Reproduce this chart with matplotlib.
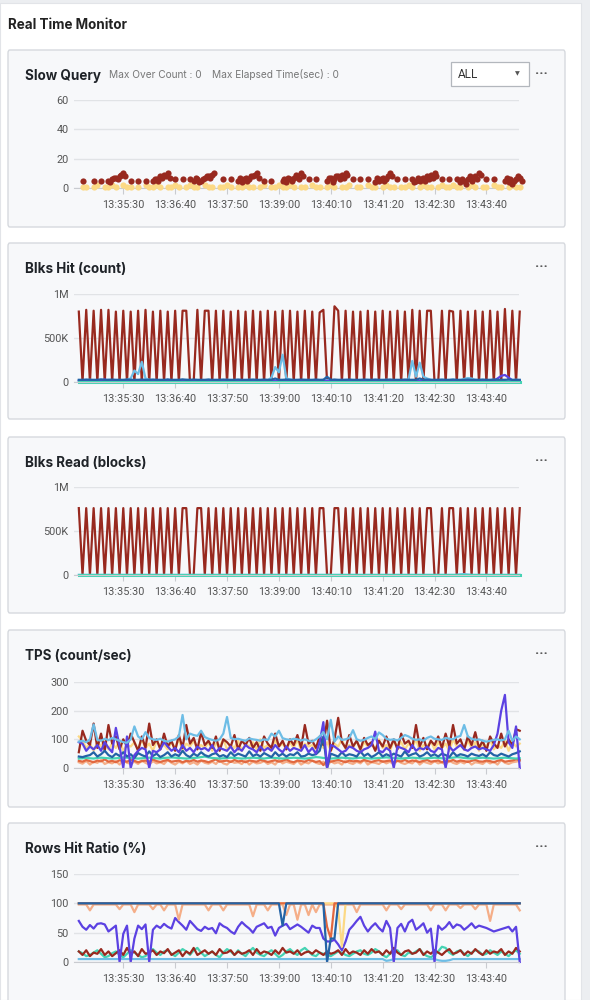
import numpy as np
import matplotlib.pyplot as plt
from matplotlib.patches import Rectangle, FancyBboxPatch

# ---- data (5 s samples starting 13:34:30) ----
start_time = "13:34:30"
step_sec = 5
xtick_labels = ["13:35:30", "13:36:40", "13:37:50", "13:39:00",
                "13:40:10", "13:41:20", "13:42:30", "13:43:40"]

nan = np.nan
slow_red = [nan,5,nan,nan,5,nan,5,nan,5,6,7,8,10,nan,5,nan,5,nan,5,nan,
            5,6,8,9,10,nan,6,nan,6,nan,6,5,6,5,7,8,9,nan,nan,6,
            nan,6,nan,5,4,7,6,8,10,nan,5,nan,5,nan,nan,5,4,6,7,8,
            10,nan,6,nan,6,nan,nan,5,7,6,8,9,10,nan,6,nan,6,nan,6,nan,
            4,5,7,6,10,nan,6,nan,6,nan,6,5,5,7,8,9,10,nan,6,nan,
            6,nan,6,4,5,6,5,8,10,nan,6,nan,6,nan,nan,5,4,3,6,7]
slow_red_extra_idx = [8,9,10,11,12,20,21,22,23,24,31,32,33,34,35,36,
                      43,44,45,46,47,48,55,56,57,58,59,60,67,68,69,70,71,72,
                      80,81,82,83,84,90,91,92,93,94,95,96,
                      103,104,105,106,107,108,115,116,117,118,119]
slow_red_extra_val = [4,7,6,9,8,6,5,7,8,7,7,4,6,8,7,10,
                      7,6,5,8,9,7,6,7,5,9,6,8,7,4,8,6,7,9,
                      7,6,5,8,8,4,7,6,5,6,7,8,
                      6,3,8,7,6,9,7,6,5,8,5]
slow_yellow = [nan,1,1,nan,1,2,nan,1,1,2,1,nan,2,1,1,nan,1,nan,2,1,
               1,2,1,nan,1,1,2,1,nan,1,2,1,1,nan,2,1,1,nan,1,1,
               2,1,nan,1,1,2,1,1,nan,1,2,nan,1,1,2,1,1,2,1,nan,
               1,1,nan,2,1,1,nan,1,2,1,nan,1,1,2,nan,1,1,nan,2,1,
               1,nan,1,2,1,1,nan,1,1,2,1,nan,1,2,1,1,nan,1,2,1,
               1,2,1,1,nan,1,2,1,nan,1,1,nan,2,1,1,nan,1,2,1,1]

# Blks Hit (thousands)
hit_red = [800,0,820,0,810,0,820,0,820,0,800,0,810,0,800,0,810,0,820,0,
           800,0,810,0,800,0,810,0,810,810,0,0,820,0,810,810,0,810,0,810,
           0,800,0,810,0,800,0,810,0,800,0,810,0,800,0,810,0,810,0,800,
           0,810,0,800,0,790,820,0,0,860,810,0,810,0,800,0,800,0,810,0,
           800,0,810,0,800,0,810,0,800,0,820,0,810,0,810,810,0,0,810,0,
           810,800,0,810,0,800,0,810,0,800,0,810,0,800,0,830,0,810,0,800]
hit_lightblue = [20,22,20,25,20,20,22,20,25,20,20,22,20,25,40,130,90,230,40,25,
                 20,22,20,20,25,20,22,20,20,25,20,20,22,20,20,25,20,22,20,20,
                 25,20,20,22,20,20,25,20,22,20,20,20,50,170,110,310,40,30,20,22,
                 20,25,20,20,22,20,25,20,20,22,20,20,25,20,22,20,20,20,25,20,
                 22,20,20,25,20,22,20,20,20,30,240,60,220,60,40,25,20,22,20,20,
                 22,25,20,20,35,45,40,25,20,20,22,20,25,20,20,22,20,20,25,20]
hit_darkblue = [25,25,28,25,25,25,30,25,25,28,25,25,25,28,25,25,25,28,25,25,
                28,25,25,25,28,25,25,25,30,25,25,28,25,25,25,28,25,25,25,28,
                25,25,25,28,25,25,25,28,25,25,28,25,25,40,25,25,28,25,25,25,
                28,25,25,25,28,25,25,60,25,28,25,25,25,28,25,25,25,28,25,25,
                28,25,25,25,28,25,25,25,28,25,25,25,40,25,28,25,25,25,28,25,
                25,28,25,25,25,28,25,25,25,28,25,25,28,25,25,25,28,25,25,25]
hit_purple = [12,15,12,15,12,12,15,30,12,15,12,12,15,12,12,15,12,12,15,12,
              12,15,12,12,25,12,15,12,12,15,12,12,15,12,12,15,12,12,15,12,
              12,15,12,12,15,12,12,15,12,12,15,12,12,15,12,12,15,12,12,15,
              12,12,15,12,12,15,12,12,15,12,12,25,12,15,12,12,15,12,12,15,
              12,12,15,12,12,15,12,12,15,12,12,15,12,12,15,12,12,15,12,12,
              15,12,12,15,12,12,15,12,12,15,12,12,15,40,70,80,50,20,15,12]
hit_teal = [5] * 120

# Blks Read (thousands)
read_red = [760,0,760,0,760,0,760,0,760,0,760,0,760,0,760,0,760,0,760,0,
            760,0,760,0,760,0,760,0,760,760,0,0,760,760,0,760,0,760,0,760,
            0,760,0,760,0,760,0,760,0,760,0,760,0,760,0,760,0,760,0,760,
            0,760,0,760,0,760,760,0,0,760,760,0,760,0,760,0,760,0,760,0,
            760,0,760,0,760,0,760,0,760,0,760,0,760,0,760,760,0,0,760,0,
            760,760,0,760,0,760,0,760,0,760,0,760,0,760,0,760,0,760,0,760]
read_lightblue = [2]*100 + [2,2,3,8,10,6,2,2,2,2,2,2,2,2,2,2,2,2,2,2]
read_teal = [2] * 120

# TPS (count/sec)
tps_red = [55,130,95,80,155,70,120,60,150,85,110,65,100,75,120,90,60,110,70,155,
           80,100,65,120,75,95,60,115,70,150,85,105,65,125,80,95,70,110,60,100,
           90,75,115,65,95,80,105,70,90,60,110,85,70,120,75,95,65,100,80,115,
           70,150,85,95,70,110,80,165,60,100,175,90,70,115,75,95,65,105,80,90,
           60,95,75,110,70,100,65,120,85,95,70,150,75,105,65,95,80,110,70,120,
           75,150,85,100,65,110,80,125,70,95,60,110,85,70,120,75,100,80,135,130]
tps_lightblue = [92,95,90,100,152,98,95,102,97,105,100,95,90,88,100,145,110,100,125,105,
                 100,98,102,95,92,96,100,110,185,100,120,115,112,130,108,102,98,95,100,120,
                 178,105,100,102,98,95,103,100,98,95,100,97,120,110,130,104,100,98,102,100,
                 96,100,95,92,100,110,125,100,168,92,110,98,100,105,132,100,95,98,105,110,
                 100,124,115,102,98,100,96,105,115,110,102,98,100,95,105,110,102,100,98,105,
                 102,100,108,112,150,110,102,98,100,95,92,95,98,100,96,100,130,95,110,100]
tps_purple = [90,85,60,75,65,80,60,90,70,55,140,75,0,110,0,45,60,70,65,0,
              60,55,65,90,75,60,70,55,80,60,70,55,75,65,70,60,80,55,70,65,
              60,75,55,70,60,80,70,65,55,75,60,70,60,80,65,55,75,60,70,65,
              60,80,55,70,50,90,160,0,80,75,65,55,60,75,70,60,55,65,70,80,
              127,60,55,70,60,0,75,70,65,55,80,60,70,65,75,60,55,70,65,0,
              75,60,70,80,65,60,70,75,65,70,65,60,80,120,200,255,90,70,145,0]
tps_darkblue = [40,38,42,45,55,40,48,60,45,38,50,42,55,40,48,35,52,45,40,58,
                42,50,38,45,55,40,48,42,60,45,38,50,42,55,45,40,48,52,40,45,
                38,55,42,50,45,40,58,42,48,40,52,45,38,55,42,50,40,48,45,55,
                40,42,50,45,48,60,110,0,50,45,40,55,42,48,45,40,58,42,50,38,
                45,55,40,48,42,50,45,40,58,42,48,52,40,45,55,42,48,40,50,45,
                38,55,42,48,45,40,50,45,42,48,40,55,45,42,50,45,40,48,52,58]
tps_yellow = [110,95,70,85,60,90,75,100,65,85,70,95,60,80,75,90,65,100,70,85,
              60,95,75,80,65,90,70,100,60,85,75,95,65,80,70,90,60,85,75,100,
              65,80,70,95,60,85,75,90,65,100,70,80,60,95,75,85,65,90,70,100,
              60,85,75,80,65,95,70,90,60,85,75,100,65,80,70,95,60,90,75,85,
              65,100,70,80,60,95,75,90,65,85,70,100,60,80,75,95,65,90,70,85,
              60,100,75,80,65,95,70,90,60,85,75,100,65,80,70,95,60,90,75,85]
tps_teal = [33,34,35,34,33,35,36,35,34,33,34,35,37,36,35,34,33,34,35,36,
            35,34,33,35,36,37,36,35,34,33,34,35,36,38,40,37,35,34,33,34,
            35,36,35,34,33,34,35,36,35,34,33,35,36,35,34,33,34,35,36,35,
            34,33,34,36,38,37,35,34,33,34,35,36,35,34,33,35,36,35,34,33,
            34,35,36,37,36,35,34,33,34,35,36,35,34,33,34,35,36,35,34,33,
            35,36,38,37,35,34,33,34,35,36,35,34,33,34,35,36,35,34,33,34]
tps_orange = [25,22,28,24,20,26,23,30,22,25,20,27,24,22,28,25,20,24,26,22,
              30,24,21,25,28,22,24,26,20,25,23,28,22,26,24,20,25,30,22,24,
              26,21,28,23,25,20,26,24,22,28,25,21,24,27,22,25,30,23,20,26,
              24,22,28,25,21,24,10,26,22,25,28,24,20,26,23,25,22,28,24,21,
              25,27,22,24,26,20,25,23,28,22,26,24,21,25,28,22,24,26,20,25,
              23,28,22,26,24,21,25,28,23,22,26,24,20,25,28,22,24,26,30,28]
tps_salmon = [20,15,25,12,22,18,28,14,20,16,24,12,30,18,15,22,14,26,18,12,
              24,16,20,14,28,18,12,22,16,25,14,20,12,26,18,15,22,14,28,16,
              12,24,18,20,14,26,12,22,16,18,24,14,20,12,28,16,22,18,14,25,
              12,20,16,26,18,14,22,5,24,16,20,12,26,18,14,22,16,28,12,20,
              18,14,24,16,22,12,26,18,14,20,16,28,12,22,18,14,24,16,20,12,
              26,18,14,22,16,25,12,20,18,14,24,16,22,12,28,18,14,20,22,25]

# Rows Hit Ratio (%)
rows_darkblue = [100]*55 + [62] + [100]*11 + [0,40,40] + [100]*50
rows_orange = [100]*67 + [60,40] + [100]*51
rows_yellow = [100]*70 + [90,26] + [100]*48
rows_salmon = [98,98,98,88,98,98,98,98,98,98,98,90,98,98,98,85,98,98,98,98,
               90,98,98,88,98,98,98,72,98,98,98,98,98,98,98,88,98,98,98,88,
               98,98,98,98,98,98,98,78,98,98,98,88,98,98,98,98,80,98,98,72,
               98,98,80,98,85,98,98,98,98,98,98,98,98,98,98,85,98,98,98,98,
               98,98,98,88,98,98,98,90,98,98,98,98,98,98,98,88,98,98,98,88,
               98,98,98,92,98,98,98,90,98,98,98,70,98,98,98,98,98,98,98,88]
rows_purple = [70,60,55,63,57,65,66,64,52,57,62,0,48,62,0,40,62,56,64,0,
               55,62,58,65,60,57,75,68,62,55,70,63,56,53,60,56,58,49,66,61,
               58,52,48,60,68,62,57,50,60,63,66,58,60,45,58,62,65,56,60,64,
               60,55,50,62,58,58,40,35,35,38,30,20,35,55,62,70,77,62,52,60,
               66,58,52,70,58,0,58,65,52,67,72,55,60,66,50,57,0,62,55,60,
               68,58,64,62,55,60,66,58,62,60,58,55,52,54,56,58,60,52,60,0]
rows_red = [18,12,20,10,16,14,22,12,18,10,15,20,12,24,14,18,10,22,14,16,
            20,12,18,15,22,12,16,20,10,18,14,24,12,16,20,14,18,12,22,15,
            16,20,12,18,14,16,20,12,22,14,18,16,12,20,14,24,16,18,14,20,
            12,16,18,14,20,16,12,18,14,16,20,12,22,14,18,16,12,20,14,22,
            16,18,12,20,14,24,16,12,18,20,14,16,22,12,18,14,20,16,12,18,
            22,14,16,20,12,18,14,22,16,12,20,14,18,16,22,12,18,14,24,18]
rows_teal = [18,15,10,12,16,20,14,8,10,15,18,12,8,14,20,16,12,8,10,18,
             22,16,12,18,20,14,10,16,22,18,12,20,24,16,10,14,18,12,8,16,
             22,18,12,20,14,10,18,24,16,12,10,16,20,14,8,12,18,22,16,12,
             20,24,18,12,10,16,14,12,10,14,18,16,12,10,14,18,20,14,12,16,
             22,18,12,8,14,18,20,12,10,16,14,18,22,14,10,8,12,18,26,24,
             16,12,18,20,14,10,16,20,18,12,14,20,16,12,18,14,10,16,20,14]
rows_lightblue = [5]*83 + [2,3] + [5]*12 + [3,2,2,3] + [5]*19

# ---- styling ----
RED = "#98291f"; YEL = "#fcd985"; LBLUE = "#6dbde6"; PURP = "#5b41e2"
DBLUE = "#2363a6"; TEAL = "#45d3b3"; ORNG = "#e2683f"; SALM = "#f5ae88"

plt.rcParams["font.family"] = ["Roboto", "DejaVu Sans"]
W, H = 590, 1000
fig = plt.figure(figsize=(W / 100, H / 100), dpi=100)
fig.patch.set_facecolor("#eceef1")


def fx(x):
    return x / W


def fy(y):
    return 1 - y / H


def to_sec(s):
    h, m, sec = (int(p) for p in s.split(":"))
    return h * 3600 + m * 60 + sec


t0 = to_sec(start_time)
tick_pos = [to_sec(s) - t0 for s in xtick_labels]

def tx(series):
    return np.arange(len(series)) * step_sec

# page card
fig.patches.append(Rectangle((0, 0), fx(581), fy(3), transform=fig.transFigure,
                             facecolor="white", edgecolor="#e2e4e8", lw=0.8, zorder=-10))
fig.text(fx(8), fy(25), "Real Time Monitor", family=["Inter", "DejaVu Sans"],
         fontsize=9.7, fontweight="bold", color="#222", va="center")

panels = [
    # top, bottom, title, px of max tick, px of zero, ymax, ticks, labels
    (50, 227, "Slow Query", 100, 188, 60, [0, 20, 40, 60], ["0", "20", "40", "60"]),
    (243, 419, "Blks Hit (count)", 294, 382, 1000, [0, 500, 1000], ["0", "500K", "1M"]),
    (437, 613, "Blks Read (blocks)", 487, 575, 1000, [0, 500, 1000], ["0", "500K", "1M"]),
    (630, 807, "TPS (count/sec)", 682, 768, 300, [0, 100, 200, 300], ["0", "100", "200", "300"]),
    (823, 1012, "Rows Hit Ratio (%)", 874, 962, 150, [0, 50, 100, 150], ["0", "50", "100", "150"]),
]

axes = []
for top, bot, title, ytop, yzero, ymax, ticks, labels in panels:
    fig.patches.append(FancyBboxPatch((fx(8), fy(bot)), fx(565) - fx(8), fy(top) - fy(bot),
                                      boxstyle="round,pad=0,rounding_size=0.003",
                                      transform=fig.transFigure, facecolor="#f7f8fa",
                                      edgecolor="#d6d9de", lw=1, zorder=-5))
    fig.text(fx(25), fy(top + 26), title, family=["Inter", "DejaVu Sans"], fontsize=9.7,
             fontweight="bold", color="#1f2328", va="center")
    fig.text(fx(541), fy(top + 24), "···", fontsize=10, fontweight="bold",
             color="#555", ha="center", va="center")
    ax = fig.add_axes([fx(74), fy(yzero), fx(519) - fx(74), (yzero - ytop) / H])
    ax.set_facecolor("none")
    ax.set_xlim(-6.5, 594)
    ax.set_ylim(0, ymax)
    ax.set_yticks(ticks)
    ax.set_yticklabels(labels)
    ax.set_xticks(tick_pos)
    ax.set_xticklabels(xtick_labels)
    for s in ["top", "right", "left"]:
        ax.spines[s].set_visible(False)
    ax.spines["bottom"].set_color("#c9cbd0")
    ax.yaxis.grid(True, color="#e1e3e6", lw=1)
    ax.set_axisbelow(True)
    ax.tick_params(axis="y", length=0, pad=4, labelsize=7.8, labelcolor="#555")
    ax.tick_params(axis="x", length=4, width=0.8, color="#c9cbd0", pad=4.5,
                   labelsize=7.8, labelcolor="#555")
    axes.append(ax)

# Slow Query extras
fig.text(fx(109), fy(75), "Max Over Count : 0", family=["Inter", "DejaVu Sans"],
         fontsize=7.3, color="#777", va="center")
fig.text(fx(212), fy(75), "Max Elapsed Time(sec) : 0", family=["Inter", "DejaVu Sans"],
         fontsize=7.3, color="#777", va="center")
fig.patches.append(Rectangle((fx(451), fy(86)), fx(529) - fx(451), fy(62) - fy(86),
                             transform=fig.transFigure, facecolor="white",
                             edgecolor="#b3b7bd", lw=0.9, zorder=-4))
fig.text(fx(458), fy(75), "ALL", fontsize=8.5, color="#333", va="center")
fig.text(fx(517), fy(74), "▼", family="DejaVu Sans", fontsize=4.5, color="#555",
         ha="center", va="center")

lw = 1.6
ax = axes[0]
ax.scatter(tx(slow_yellow), slow_yellow, s=20, color=YEL, clip_on=False, zorder=3, lw=0)
ax.scatter(tx(slow_red), slow_red, s=20, color=RED, clip_on=False, zorder=4, lw=0)
ax.scatter(np.array(slow_red_extra_idx) * step_sec + 2.5, slow_red_extra_val, s=20,
           color=RED, clip_on=False, zorder=4, lw=0)

ax = axes[1]
ax.plot(tx(hit_red), hit_red, color=RED, lw=lw, clip_on=False)
for series, c in [(hit_lightblue, LBLUE), (hit_purple, PURP), (hit_darkblue, DBLUE)]:
    ax.plot(tx(series), series, color=c, lw=lw, clip_on=False)
ax.plot(tx(hit_teal), hit_teal, color=TEAL, lw=2.2, clip_on=False)

ax = axes[2]
ax.plot(tx(read_red), read_red, color=RED, lw=lw, clip_on=False)
ax.plot(tx(read_lightblue), read_lightblue, color=LBLUE, lw=lw, clip_on=False)
ax.plot(tx(read_teal), read_teal, color=TEAL, lw=2.2, clip_on=False)

ax = axes[3]
for series, c in [(tps_yellow, YEL), (tps_salmon, SALM), (tps_orange, ORNG),
                  (tps_red, RED), (tps_teal, TEAL), (tps_darkblue, DBLUE),
                  (tps_purple, PURP), (tps_lightblue, LBLUE)]:
    ax.plot(tx(series), series, color=c, lw=lw, clip_on=False)

ax = axes[4]
for series, c in [(rows_teal, TEAL), (rows_red, RED), (rows_lightblue, LBLUE),
                  (rows_purple, PURP), (rows_salmon, SALM), (rows_yellow, YEL),
                  (rows_orange, ORNG), (rows_darkblue, DBLUE)]:
    ax.plot(tx(series), series, color=c, lw=lw, clip_on=False)

fig.savefig("out.png", dpi=100, facecolor=fig.get_facecolor())
